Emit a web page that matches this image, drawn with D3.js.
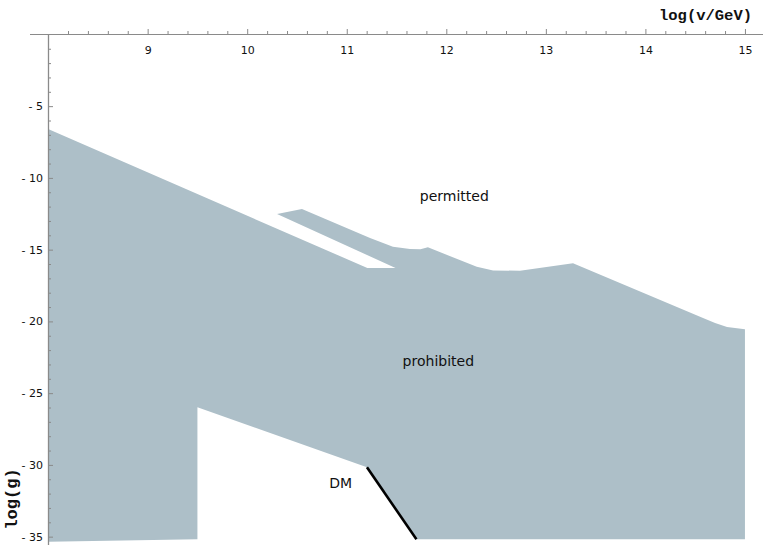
<!DOCTYPE html>
<html><head><meta charset="utf-8">
<script src="https://cdn.jsdelivr.net/npm/d3@7"></script>
<style>body{margin:0;background:#fff}svg{display:block}</style>
</head><body>
<svg id="c" width="763" height="545"></svg>
<script>
// Boundary of the prohibited region (log v, log g), traced clockwise
const regionV = [8.0, 11.207, 11.49, 10.30, 10.55, 11.234, 11.464, 11.635, 11.74, 11.815,
  12.306, 12.47, 12.74, 13.273, 14.579, 14.70, 14.82, 14.98, 15.0,
  15.0, 11.70, 11.203, 9.50, 9.50, 8.0];
const regionG = [-6.59, -16.28, -16.28, -12.51, -12.17, -14.19, -14.79, -14.95, -14.98, -14.84,
  -16.19, -16.45, -16.47, -15.95, -19.76, -20.11, -20.39, -20.53, -20.55,
  -35.18, -35.18, -30.17, -25.99, -35.18, -35.35];
// Dark-matter line
const dmV = [11.203, 11.70];
const dmG = [-30.17, -35.18];
// Ticks
const xMajor = [9, 10, 11, 12, 13, 14, 15];
const yMajor = [-5, -10, -15, -20, -25, -30, -35];
const labels = [
  {text: "permitted", v: 12.08, g: -11.35},
  {text: "prohibited", v: 11.92, g: -22.85},
  {text: "DM", v: 10.94, g: -31.35}
];

const svg = d3.select("#c");
const x = d3.scaleLinear().domain([8, 15]).range([48.1, 744.95]);
const y = d3.scaleLinear().domain([0, -35]).range([34.4, 536.65]);

const pts = regionV.map((v, i) => [v, regionG[i]]);
svg.append("path")
  .attr("d", d3.line().x(d => x(d[0])).y(d => y(d[1]))(pts) + "Z")
  .attr("fill", "#adbfc8");

svg.append("path")
  .attr("d", d3.line().x(d => x(d[0])).y(d => y(d[1]))(dmV.map((v, i) => [v, dmG[i]])))
  .attr("stroke", "#000").attr("stroke-width", 2.6).attr("fill", "none");

labels.forEach(l => {
  svg.append("text").attr("x", x(l.v)).attr("y", y(l.g))
    .attr("text-anchor", "middle").attr("dominant-baseline", "middle")
    .attr("font-family", "DejaVu Sans").attr("font-size", 14).attr("fill", "#111")
    .text(l.text);
});

const axisColor = "#8a8a8a";
// X axis (top)
const xMinor = d3.range(8.2, 15.2, 0.2).filter(v => Math.abs(v - Math.round(v)) > 0.01);
const gx = svg.append("g").attr("transform", "translate(0,34)");
gx.call(d3.axisTop(x).tickValues(xMinor).tickSize(3).tickFormat(""));
gx.call(g => g.select(".domain").remove());
const gx2 = svg.append("g").attr("transform", "translate(0,34)");
gx2.call(d3.axisTop(x).tickValues(xMajor).tickSize(5).tickFormat(d3.format("d")));
gx2.select(".domain").remove();
gx2.selectAll("text").attr("y", 16).attr("dy", "0.32em")
  .attr("font-family", "DejaVu Sans").attr("font-size", 11).attr("fill", "#111");
svg.selectAll("g line").attr("stroke", axisColor);
svg.append("line").attr("x1", 30).attr("x2", 763).attr("y1", 34.5).attr("y2", 34.5)
  .attr("stroke", axisColor).attr("stroke-width", 1);

// Y axis (left)
const yMinor = d3.range(-1, -36, -1).filter(v => v % 5 !== 0);
const gy = svg.append("g").attr("transform", "translate(48,0)");
gy.call(d3.axisRight(y).tickValues(yMinor).tickSize(3).tickFormat(""));
gy.select(".domain").remove();
const gy2 = svg.append("g").attr("transform", "translate(48,0)");
gy2.call(d3.axisRight(y).tickValues(yMajor).tickSize(5).tickFormat(d => "- " + Math.abs(d)));
gy2.select(".domain").remove();
gy2.selectAll("text").attr("x", -5).attr("text-anchor", "end")
  .attr("font-family", "DejaVu Sans").attr("font-size", 11).attr("fill", "#111");
svg.selectAll("g line").attr("stroke", axisColor);
svg.append("line").attr("x1", 48.5).attr("x2", 48.5).attr("y1", 34).attr("y2", 545)
  .attr("stroke", axisColor).attr("stroke-width", 1.3);

// Axis titles
svg.append("text").attr("x", 752).attr("y", 20).attr("text-anchor", "end")
  .attr("font-family", "Liberation Mono").attr("font-weight", "bold").attr("font-size", 15.5)
  .attr("fill", "#111").text("log(v/GeV)");
svg.append("text").attr("transform", "translate(17,499) rotate(-90)").attr("text-anchor", "middle")
  .attr("font-family", "Liberation Mono").attr("font-weight", "bold").attr("font-size", 17)
  .attr("fill", "#111").text("log(g)");
</script>
</body></html>
